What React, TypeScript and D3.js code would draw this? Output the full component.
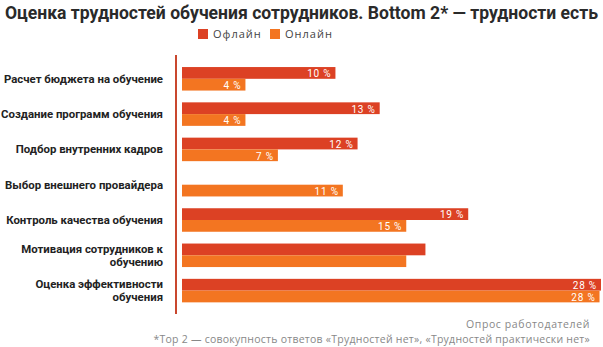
import React from "react";
import * as d3 from "d3";

const categories = [
  ["Расчет бюджета на обучение"],
  ["Создание программ обучения"],
  ["Подбор внутренних кадров"],
  ["Выбор внешнего провайдера"],
  ["Контроль качества обучения"],
  ["Мотивация сотрудников к", "обучению"],
  ["Оценка эффективности", "обучения"],
];
const offline: (number | null)[] = [10.4, 13.4, 11.9, null, 19.4, 16.5, 28.4];
const online: (number | null)[] = [4.3, 4.3, 6.5, 10.9, 15.2, 15.2, 28.3];
const offlineLabels: (string | null)[] = ["10 %", "13 %", "12 %", null, "19 %", null, "28 %"];
const onlineLabels: (string | null)[] = ["4 %", "4 %", "7 %", "11 %", "15 %", null, "28 %"];
const seriesNames = ["Офлайн", "Онлайн"];
const title = "Оценка трудностей обучения сотрудников. Bottom 2* — трудности есть";
const source = "Опрос работодателей";
const note = "*Top 2 — совокупность ответов «Трудностей нет», «Трудностей практически нет»";

const W = 603;
const H = 347;
const C_OFF = "#dc4124";
const C_ON = "#f37521";
const FONT = "'Open Sans', 'DejaVu Sans', sans-serif";
const FONT2 = "Roboto, 'Open Sans', sans-serif";

export default function App() {
  const ids = categories.map((_, i) => String(i));
  const y = d3.scaleBand<string>().domain(ids).range([55.4, 314]).paddingInner(0.334).paddingOuter(0.33);
  const x = d3.scaleLinear().domain([0, 28.4]).range([182, 601]);
  const bh = y.bandwidth() / 2;

  return (
    <svg width={W} height={H} style={{ position: "absolute", left: 0, top: 0, background: "#fff" }}>
      <text x={W / 2} y={19} textAnchor="middle" fontFamily={FONT2} fontWeight="bold" fontSize={17.5}
        fill="#2a2a2a" textLength={593} lengthAdjust="spacingAndGlyphs">{title}</text>
      {seriesNames.map((n, i) => {
        const lx = i === 0 ? 198 : 270;
        return (
          <g key={n}>
            <rect x={lx} y={29} width={10} height={10} fill={i === 0 ? C_OFF : C_ON} />
            <text x={lx + 15} y={38} fontFamily={FONT} fontSize={11} fill="#444" letterSpacing={1}>{n}</text>
          </g>
        );
      })}
      <line x1={176} x2={176} y1={55} y2={314} stroke="#c9472e" strokeWidth={2} />
      {categories.map((lines, i) => {
        const y0 = y(ids[i])!;
        const cy = y0 + y.bandwidth() / 2;
        const off = offline[i];
        const on = online[i];
        return (
          <g key={i}>
            {lines.map((t, j) => (
              <text key={j} x={163} y={cy + 4 + (j - (lines.length - 1) / 2) * 13}
                textAnchor="end" fontFamily={FONT2} fontWeight="bold" fontSize={11.4} fill="#222">{t}</text>
            ))}
            {off != null && (
              <rect x={x(0)} y={y0} width={x(off) - x(0)} height={bh} fill={C_OFF} />
            )}
            {on != null && (
              <rect x={x(0)} y={y0 + bh} width={x(on) - x(0)} height={bh} fill={C_ON} />
            )}
            {off != null && offlineLabels[i] && (
              <text x={x(off) - 4} y={y0 + bh - 1.5} textAnchor="end" fontFamily={FONT2}
                fontSize={10} fill="#fff" letterSpacing={0.8}>{offlineLabels[i]}</text>
            )}
            {on != null && onlineLabels[i] && (
              <text x={x(on) - 4} y={y0 + 2 * bh - 1.5} textAnchor="end" fontFamily={FONT2}
                fontSize={10} fill="#fff" letterSpacing={0.8}>{onlineLabels[i]}</text>
            )}
          </g>
        );
      })}
      <text x={590} y={328} textAnchor="end" fontFamily={FONT} fontSize={10.5} fill="#888" letterSpacing={0.6}>{source}</text>
      <text x={590} y={343} textAnchor="end" fontFamily={FONT} fontSize={10.5} fill="#888" letterSpacing={0.25}>{note}</text>
    </svg>
  );
}
